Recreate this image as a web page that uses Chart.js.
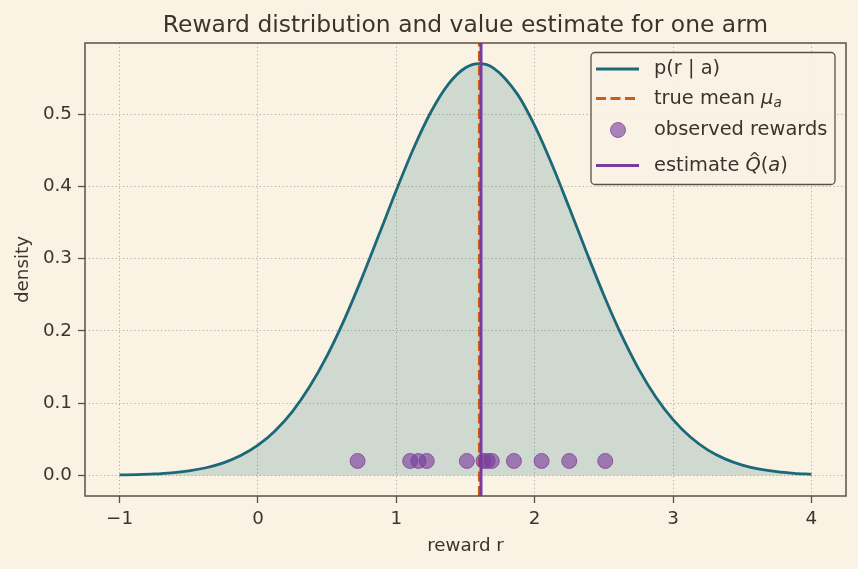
<!DOCTYPE html>
<html>
<head>
<meta charset="utf-8">
<script src="https://cdn.jsdelivr.net/npm/chart.js@4/dist/chart.umd.min.js"></script>
<style>
  body { margin: 0; background: #FAF3E4; }
  #wrap { width: 858px; height: 569px; }
</style>
</head>
<body>
<div id="wrap"><canvas id="myChart" width="858" height="569"></canvas></div>
<script>
// density curve p(r | a)
const curveX = [-1, -0.875, -0.75, -0.625, -0.5, -0.375, -0.25, -0.125, 0, 0.125, 0.25, 0.375, 0.5, 0.625, 0.75, 0.875,
  1, 1.125, 1.25, 1.375, 1.5, 1.6, 1.7, 1.875, 2, 2.125, 2.25, 2.375, 2.5, 2.625, 2.75, 2.875,
  3, 3.125, 3.25, 3.375, 3.5, 3.625, 3.75, 3.875, 4];
const curveY = [0.0006, 0.0011, 0.002, 0.0036, 0.0063, 0.0106, 0.0173, 0.0274, 0.0418, 0.0619, 0.0887, 0.1233, 0.1658, 0.216, 0.2727, 0.3333,
  0.3947, 0.4527, 0.5029, 0.5412, 0.5641, 0.5699, 0.5641, 0.5276, 0.484, 0.4302, 0.3703, 0.3088, 0.2494, 0.1951, 0.1478, 0.1085,
  0.0771, 0.0531, 0.0354, 0.0229, 0.0143, 0.0087, 0.0051, 0.0029, 0.0016];

// observed rewards (drawn at a fixed height)
const rewards = [0.72, 1.10, 1.16, 1.22, 1.51, 1.63, 1.66, 1.69, 1.85, 2.05, 2.25, 2.51];
const rewardLevel = 0.02;

const trueMean = 1.6;
const estimate = 1.612;

const xTicks = [-1, 0, 1, 2, 3, 4];
const yTicks = [0, 0.1, 0.2, 0.3, 0.4, 0.5];
const xRange = [-1.25, 4.25];
const yRange = [-0.0285, 0.5984];

const bg = '#FAF3E4';
const ink = '#3b342c';
const spine = '#5b5046';
const teal = '#1B6878';
const orange = '#CF5B14';
const purple = '#7A3C9C';
const dotFill = 'rgba(122, 60, 156, 0.62)';
const dotEdge = 'rgba(122, 60, 156, 0.75)';
const font = 'DejaVu Sans';

const bgPlugin = {
  id: 'bg',
  beforeDraw(chart) {
    const c = chart.ctx;
    c.save();
    c.fillStyle = bg;
    c.fillRect(0, 0, chart.width, chart.height);
    c.restore();
  }
};

// spines, title, axis labels and the legend box
const decor = {
  id: 'decor',
  afterDraw(chart) {
    const c = chart.ctx;
    const a = chart.chartArea;
    c.save();
    c.strokeStyle = spine;
    c.lineWidth = 1.5;
    c.strokeRect(a.left, a.top, a.right - a.left, a.bottom - a.top);

    c.fillStyle = ink;
    c.textAlign = 'center';
    c.textBaseline = 'alphabetic';
    c.font = '23.4px "' + font + '"';
    c.fillText('Reward distribution and value estimate for one arm', (a.left + a.right) / 2, 32);

    c.font = '18.3px "' + font + '"';
    c.fillText('reward r', (a.left + a.right) / 2, 551);
    c.save();
    c.translate(28, (a.top + a.bottom) / 2);
    c.rotate(-Math.PI / 2);
    c.fillText('density', 0, 0);
    c.restore();

    // legend
    const lx = 591, ly = 52.5, lw = 244, lh = 132;
    c.beginPath();
    c.roundRect(lx, ly, lw, lh, 4);
    c.fillStyle = 'rgba(250, 243, 228, 0.9)';
    c.fill();
    c.strokeStyle = spine;
    c.lineWidth = 1.3;
    c.stroke();

    const hx0 = 596, hx1 = 639, tx = 654;
    const rows = [69, 98.5, 130, 165.5];
    c.lineWidth = 2.8;
    c.strokeStyle = teal;
    c.beginPath(); c.moveTo(hx0, rows[0]); c.lineTo(hx1, rows[0]); c.stroke();
    c.strokeStyle = orange;
    c.setLineDash([10, 4.5]);
    c.beginPath(); c.moveTo(hx0, rows[1]); c.lineTo(hx1, rows[1]); c.stroke();
    c.setLineDash([]);
    c.fillStyle = dotFill;
    c.strokeStyle = dotEdge;
    c.lineWidth = 1;
    c.beginPath(); c.arc(618, rows[2], 7.5, 0, Math.PI * 2); c.fill(); c.stroke();
    c.lineWidth = 2.8;
    c.strokeStyle = purple;
    c.beginPath(); c.moveTo(hx0, rows[3]); c.lineTo(hx1, rows[3]); c.stroke();

    const fs = 19.4;
    const up = fs + 'px "' + font + '"';
    const it = 'italic ' + fs + 'px "' + font + '"';
    const sub = 'italic ' + (fs * 0.7) + 'px "' + font + '"';
    c.fillStyle = ink;
    c.textAlign = 'left';
    c.textBaseline = 'middle';
    c.font = up;
    c.fillText('p(r | a)', tx, rows[0]);
    c.fillText('observed rewards', tx, rows[2]);

    let x = tx;
    c.fillText('true mean ', x, rows[1]);
    x += c.measureText('true mean ').width;
    c.font = it;
    c.fillText('\u03BC', x, rows[1]);
    x += c.measureText('\u03BC').width;
    c.font = sub;
    c.fillText('a', x, rows[1] + 5);

    x = tx;
    c.font = up;
    c.fillText('estimate ', x, rows[3]);
    x += c.measureText('estimate ').width;
    c.font = it;
    c.fillText('Q', x, rows[3]);
    const qw = c.measureText('Q').width;
    c.font = 'italic ' + (fs * 0.75) + 'px "' + font + '"';
    c.textAlign = 'center';
    c.textBaseline = 'alphabetic';
    c.fillText('^', x + qw / 2 + 1.5, rows[3] - 3);
    c.textAlign = 'left';
    c.textBaseline = 'middle';
    x += qw;
    c.font = up;
    c.fillText('(', x, rows[3]);
    x += c.measureText('(').width;
    c.font = it;
    c.fillText('a', x, rows[3]);
    x += c.measureText('a').width;
    c.font = up;
    c.fillText(')', x, rows[3]);
    c.restore();
  }
};

const ctx = document.getElementById('myChart').getContext('2d');

new Chart(ctx, {
  type: 'line',
  data: {
    datasets: [
      {
        label: 'p(r | a)',
        data: curveX.map((x, i) => ({ x: x, y: curveY[i] })),
        borderColor: teal,
        borderWidth: 2.8,
        backgroundColor: 'rgba(27, 104, 120, 0.19)',
        fill: 'origin',
        pointRadius: 0,
        cubicInterpolationMode: 'monotone',
        order: 4
      },
      {
        label: 'true mean',
        data: [{ x: trueMean, y: yRange[0] }, { x: trueMean, y: yRange[1] }],
        borderColor: orange,
        borderWidth: 2.8,
        borderDash: [10, 4.5],
        pointRadius: 0,
        fill: false,
        order: 3
      },
      {
        type: 'scatter',
        label: 'observed rewards',
        data: rewards.map(r => ({ x: r, y: rewardLevel })),
        backgroundColor: dotFill,
        borderColor: dotEdge,
        borderWidth: 1,
        pointRadius: 7.5,
        order: 2
      },
      {
        label: 'estimate',
        data: [{ x: estimate, y: yRange[0] }, { x: estimate, y: yRange[1] }],
        borderColor: purple,
        borderWidth: 3,
        pointRadius: 0,
        fill: false,
        order: 1
      }
    ]
  },
  options: {
    responsive: false,
    devicePixelRatio: 1,
    animation: false,
    layout: { padding: { top: 43, right: 12, left: 0, bottom: 0 } },
    plugins: {
      legend: { display: false },
      tooltip: { enabled: false },
      title: { display: false }
    },
    scales: {
      x: {
        type: 'linear',
        min: xRange[0],
        max: xRange[1],
        afterBuildTicks: s => { s.ticks = xTicks.map(v => ({ value: v })); },
        afterFit: s => { s.height = 73; },
        ticks: {
          color: ink,
          font: { family: font, size: 18.3 },
          padding: 5,
          maxRotation: 0,
          callback: v => v < 0 ? '\u2212' + Math.abs(v) : String(v)
        },
        grid: {
          color: '#a39b8f',
          lineWidth: 0.8,
          tickColor: spine,
          tickWidth: 1.3,
          tickLength: 7,
          tickBorderDash: []
        },
        border: { display: false, dash: [1.2, 2.6] }
      },
      y: {
        type: 'linear',
        min: yRange[0],
        max: yRange[1],
        afterBuildTicks: s => { s.ticks = yTicks.map(v => ({ value: v })); },
        afterFit: s => { s.width = 85; },
        ticks: {
          color: ink,
          font: { family: font, size: 18.3 },
          padding: 6,
          callback: v => v.toFixed(1)
        },
        grid: {
          color: '#a39b8f',
          lineWidth: 0.8,
          tickColor: spine,
          tickWidth: 1.3,
          tickLength: 7,
          tickBorderDash: []
        },
        border: { display: false, dash: [1.2, 2.6] }
      }
    }
  },
  plugins: [bgPlugin, decor]
});
</script>
</body>
</html>
